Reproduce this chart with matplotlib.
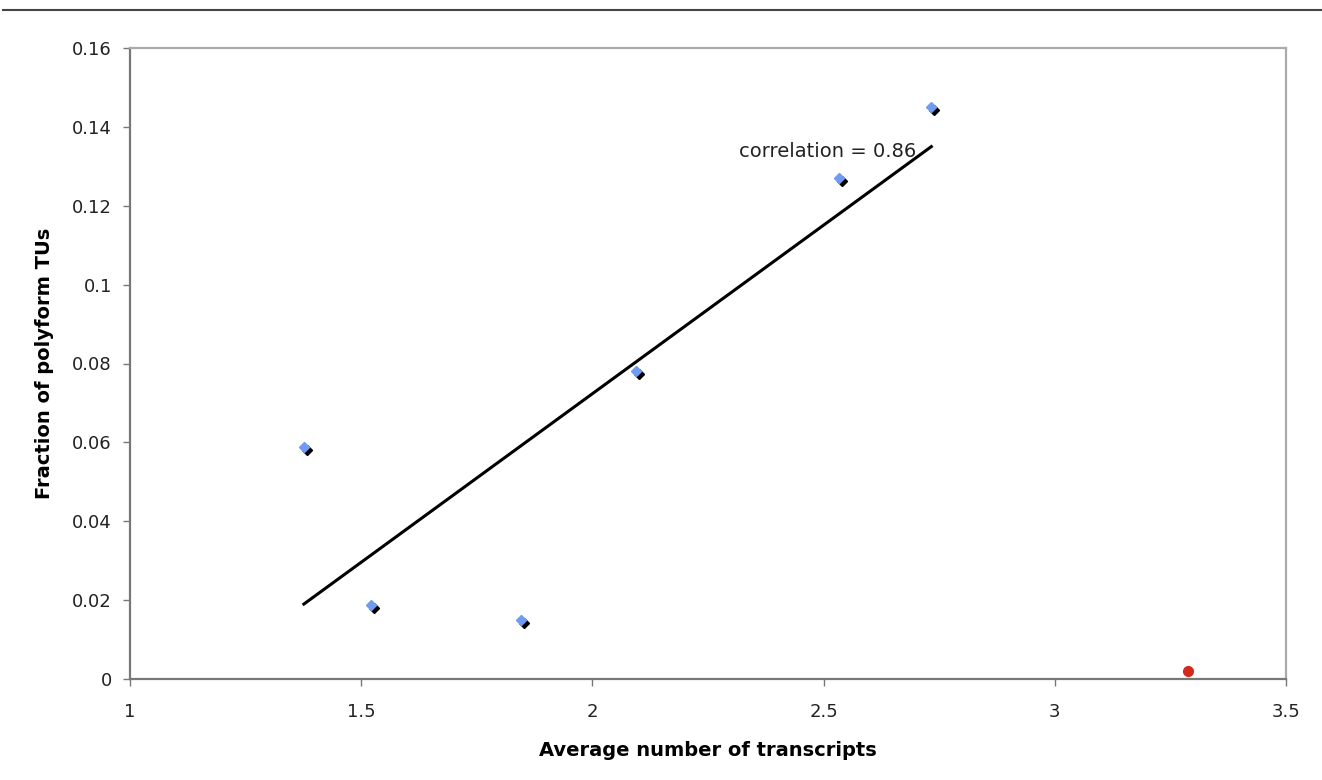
import matplotlib
matplotlib.use("Agg")
import matplotlib.pyplot as plt
import matplotlib.transforms as mtransforms
from matplotlib.lines import Line2D

plt.rcParams["font.family"] = ["DejaVu Sans"]

# data
avg_transcripts = [1.376, 1.522, 1.845, 2.095, 2.534, 2.733]
polyform_frac = [0.0588, 0.0188, 0.0150, 0.0780, 0.1270, 0.1450]
outlier_x = [3.288]
outlier_y = [0.002]
fit_x = [1.376, 2.733]
fit_y = [0.019, 0.135]
corr_text = "correlation = 0.86"

x_ticks = [1, 1.5, 2, 2.5, 3, 3.5]
x_labels = ["1", "1.5", "2", "2.5", "3", "3.5"]
y_ticks = [0, 0.02, 0.04, 0.06, 0.08, 0.1, 0.12, 0.14, 0.16]
y_labels = ["0", "0.02", "0.04", "0.06", "0.08", "0.1", "0.12", "0.14", "0.16"]

fig = plt.figure(figsize=(13.22, 7.80), dpi=100)
ax = fig.add_axes([130 / 1322, 1 - 679 / 780, 1156 / 1322, 631 / 780])

# shadow behind the diamonds (Excel style)
shadow = mtransforms.offset_copy(ax.transData, fig=fig, x=3, y=-3, units="dots")
ax.plot(avg_transcripts, polyform_frac, linestyle="none", marker="D",
        markersize=5.5, color="black", transform=shadow, zorder=3)
ax.plot(avg_transcripts, polyform_frac, linestyle="none", marker="D",
        markersize=5.5, color="#6f9cf0", zorder=4)

ax.plot(outlier_x, outlier_y, linestyle="none", marker="o", markersize=7,
        color="#d42a1e", zorder=4)

ax.plot(fit_x, fit_y, color="black", linewidth=2.2, zorder=2)
ax.text(2.70, 0.1338, corr_text, ha="right", va="center", fontsize=14,
        color="#222222")

ax.set_xlim(1, 3.5)
ax.set_ylim(0, 0.16)
ax.set_xticks(x_ticks)
ax.set_xticklabels(x_labels)
ax.set_yticks(y_ticks)
ax.set_yticklabels(y_labels)
ax.tick_params(axis="both", direction="out", length=5, width=1,
               color="#777777", labelsize=13, labelcolor="#222222")
ax.tick_params(axis="x", pad=12)
ax.tick_params(axis="y", pad=8)

for side in ["left", "bottom"]:
    ax.spines[side].set_color("#777777")
    ax.spines[side].set_linewidth(1.6)
for side in ["top", "right"]:
    ax.spines[side].set_color("#aaaaaa")
    ax.spines[side].set_linewidth(1.6)

ax.set_xlabel("Average number of transcripts", fontsize=14, fontweight="bold",
              labelpad=15)
ax.set_ylabel("Fraction of polyform TUs", fontsize=14, fontweight="bold",
              labelpad=13)

# thin rule across the top of the image
fig.add_artist(Line2D([3 / 1322, 1], [1 - 10 / 780, 1 - 10 / 780],
                      transform=fig.transFigure, color="#444444", linewidth=1.5))

fig.savefig("out.png", dpi=100)
